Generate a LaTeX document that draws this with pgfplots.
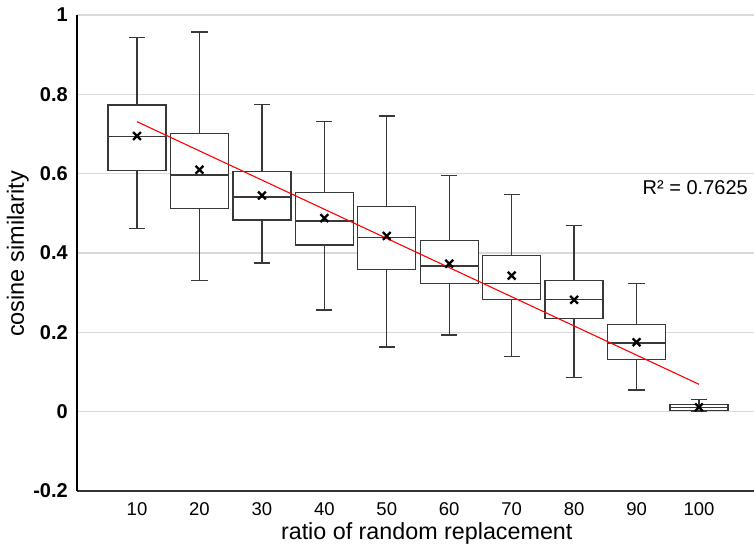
\documentclass[border=0pt]{standalone}
\usepackage{fontspec}
\setmainfont{Liberation Sans}
\usepackage{pgfplots}
\pgfplotsset{compat=1.18}
\usepgfplotslibrary{statistics}
\definecolor{boxgray}{HTML}{383838}
\definecolor{gridgray}{HTML}{D9D9D9}

\pgfplotsset{
  bx/.style={boxgray, line width=1.3pt, fill=white, solid,
    boxplot/draw direction=y,
    boxplot/box extend=0.93, boxplot/whisker extend=0.26},
}

\begin{document}
\begin{tikzpicture}
\path[use as bounding box] (-77pt,-66pt) rectangle (677pt,491pt);
\begin{axis}[
  at={(0pt,0pt)}, anchor=south west,
  scale only axis, width=677pt, height=476pt,
  xmin=0.039, xmax=10.881, ymin=-0.2, ymax=1,
  axis x line=bottom, axis y line=left,
  x axis line style={-, line width=1.4pt, draw=black!80},
  y axis line style={-, line width=2.6pt, draw=black},
  xtick={1,2,3,4,5,6,7,8,9,10},
  xticklabels={10,20,30,40,50,60,70,80,90,100},
  ytick={-0.2,0,0.2,0.4,0.6,0.8,1},
  yticklabels={-0.2,0,0.2,0.4,0.6,0.8,1},
  ymajorgrids, grid style={gridgray, line width=1.3pt},
  major tick length=0pt, tick style={draw=none},
  xticklabel style={font=\fontsize{18.5}{20}\selectfont, anchor=base, yshift=-24.7pt},
  yticklabel style={font=\bfseries\fontsize{20}{22}\selectfont, anchor=east, inner sep=0pt, xshift=-9pt},
  every axis x label/.style={at={([yshift=-48pt]axis description cs:0.5166,0)},
    anchor=base, font=\fontsize{23.3}{26}\selectfont},
  every axis y label/.style={at={([xshift=-53pt]axis description cs:0,0.498)},
    rotate=90, anchor=base, font=\fontsize{23.5}{26}\selectfont},
  xlabel={ratio of random replacement},
  ylabel={cosine similarity},
]
  % boxes: whisker / quartile values
  \addplot[bx, boxplot prepared={draw position=1, lower whisker=0.461, lower quartile=0.608, median=0.694, upper quartile=0.773, upper whisker=0.943}] coordinates {};
  \addplot[bx, boxplot prepared={draw position=2, lower whisker=0.331, lower quartile=0.513, median=0.597, upper quartile=0.702, upper whisker=0.957}] coordinates {};
  \addplot[bx, boxplot prepared={draw position=3, lower whisker=0.375, lower quartile=0.483, median=0.541, upper quartile=0.605, upper whisker=0.775}] coordinates {};
  \addplot[bx, boxplot prepared={draw position=4, lower whisker=0.256, lower quartile=0.420, median=0.481, upper quartile=0.553, upper whisker=0.732}] coordinates {};
  \addplot[bx, boxplot prepared={draw position=5, lower whisker=0.163, lower quartile=0.358, median=0.439, upper quartile=0.517, upper whisker=0.745}] coordinates {};
  \addplot[bx, boxplot prepared={draw position=6, lower whisker=0.193, lower quartile=0.323, median=0.367, upper quartile=0.432, upper whisker=0.596}] coordinates {};
  \addplot[bx, boxplot prepared={draw position=7, lower whisker=0.139, lower quartile=0.283, median=0.323, upper quartile=0.393, upper whisker=0.548}] coordinates {};
  \addplot[bx, boxplot prepared={draw position=8, lower whisker=0.087, lower quartile=0.234, median=0.283, upper quartile=0.331, upper whisker=0.469}] coordinates {};
  \addplot[bx, boxplot prepared={draw position=9, lower whisker=0.055, lower quartile=0.131, median=0.173, upper quartile=0.220, upper whisker=0.323}] coordinates {};
  \addplot[bx, boxplot prepared={draw position=10, lower whisker=0.001, lower quartile=0.003, median=0.010, upper quartile=0.018, upper whisker=0.031}] coordinates {};

  % means
  \addplot[only marks, mark=x, mark size=5.5pt, mark options={line width=2.3pt, black}] coordinates {
    (1,0.695) (2,0.610) (3,0.545) (4,0.488) (5,0.443)
    (6,0.373) (7,0.343) (8,0.282) (9,0.175) (10,0.011)
  };

  % linear trend
  \addplot[red, line width=1.1pt] coordinates {(1,0.731) (10,0.069)};

  \node[anchor=east, inner sep=0pt, font=\fontsize{20}{22}\selectfont] at (axis cs:10.785,0.564) {R² = 0.7625};
\end{axis}
\end{tikzpicture}
\end{document}
